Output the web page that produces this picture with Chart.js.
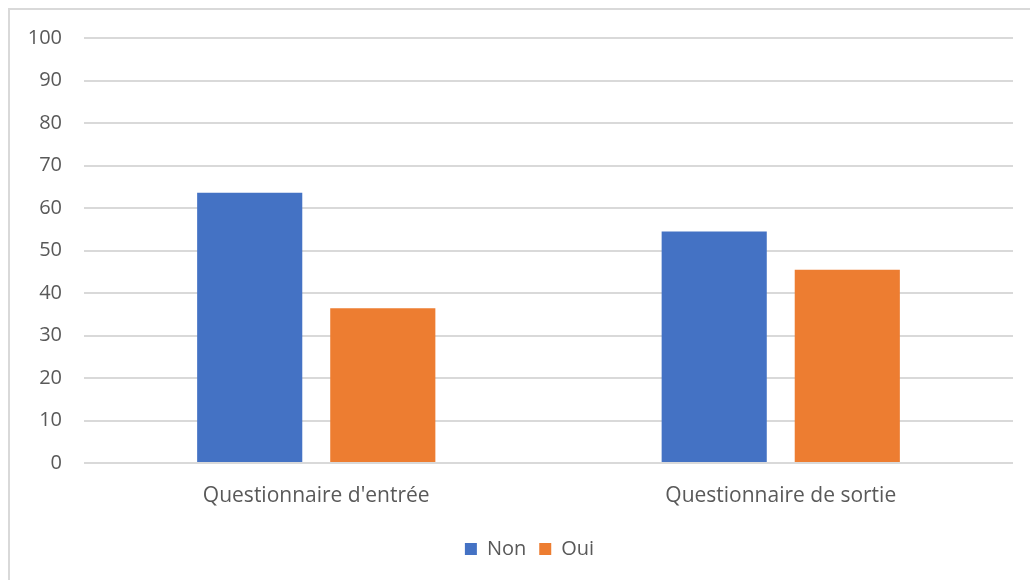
<!DOCTYPE html>
<html lang="fr">
<head>
<meta charset="utf-8">
<title>Questionnaires</title>
<script src="https://cdn.jsdelivr.net/npm/chart.js@4.4.1/dist/chart.umd.min.js"></script>
<style>
  html, body { margin: 0; padding: 0; background: #fff; overflow: hidden; }
  #cadre {
    position: absolute; left: 8px; top: 8px;
    width: 1100px; height: 700px;
    border: 2px solid #d9d9d9;
  }
  #zone { position: absolute; left: 0; top: 0; width: 1030px; height: 580px; }
</style>
</head>
<body>
<div id="cadre"></div>
<div id="zone"><canvas id="graphique"></canvas></div>
<script>
// Données
const categories = ["Questionnaire d'entrée", "Questionnaire de sortie"];
const valeursNon = [63.6, 54.5];
const valeursOui = [36.4, 45.5];
const graduations = [0, 10, 20, 30, 40, 50, 60, 70, 80, 90, 100];

const gris = "#595959";
const police = "'Open Sans', 'DejaVu Sans', sans-serif";

// décale la légende un peu vers la droite
const decalageLegende = {
    id: "decalageLegende",
    afterLayout(chart) {
        chart.legend.left += 13;
        chart.legend.right += 13;
    }
};

const ctx = document.getElementById("graphique").getContext("2d");
const graphique = new Chart(ctx, {
    type: "bar",
    data: {
        labels: categories,
        datasets: [
            { label: "Non", data: valeursNon, backgroundColor: "#4472c4" },
            { label: "Oui", data: valeursOui, backgroundColor: "#ed7d31" }
        ]
    },
    options: {
        responsive: true,
        maintainAspectRatio: false,
        animation: false,
        layout: { padding: { left: 20, right: 17, top: 38, bottom: 11 } },
        datasets: {
            bar: { categoryPercentage: 0.573, barPercentage: 0.79 }
        },
        plugins: {
            tooltip: { enabled: false },
            legend: {
                position: "bottom",
                labels: {
                    boxWidth: 12, boxHeight: 12, padding: 13,
                    color: gris,
                    font: { family: police, size: 20 }
                }
            }
        },
        scales: {
            x: {
                grid: { display: false },
                border: { display: false },
                ticks: { color: gris, padding: 12, font: { family: police, size: 21 } },
                afterFit: s => { s.height = 63; }
            },
            y: {
                min: 0, max: 100,
                afterBuildTicks: s => { s.ticks = graduations.map(v => ({ value: v })); },
                grid: { color: "#d9d9d9", lineWidth: 2, drawTicks: false },
                border: { display: false },
                ticks: { color: gris, padding: 22, font: { family: police, size: 20 } },
                afterFit: s => { s.width = 64; }
            }
        }
    },
    plugins: [decalageLegende]
});
</script>
</body>
</html>
